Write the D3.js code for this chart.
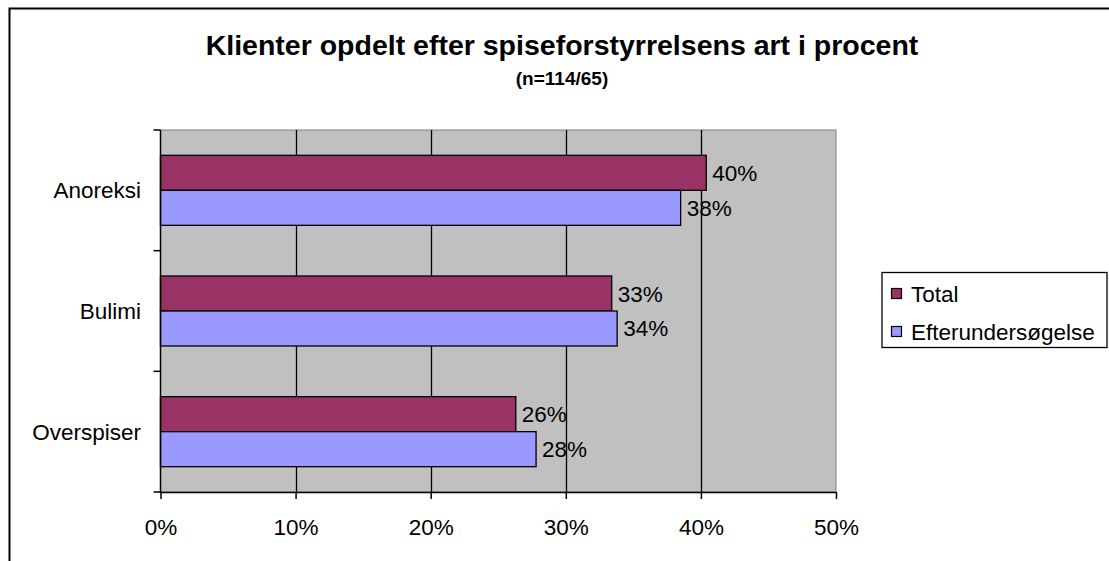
<!DOCTYPE html>
<html><head><meta charset="utf-8">
<script src="https://cdn.jsdelivr.net/npm/d3@7"></script>
<style>body{margin:0;background:#fff}svg{display:block;font-family:"Liberation Sans",Arial,sans-serif}</style>
</head><body><svg id="c" width="1109" height="561"></svg>
<script>
const categories = ["Anoreksi", "Bulimi", "Overspiser"];
const seriesNames = ["Total", "Efterundersøgelse"];
const totalValues = [40.4, 33.4, 26.3];
const efterValues = [38.5, 33.8, 27.8];
const labelsTotal = ["40%", "33%", "26%"];
const labelsEfter = ["38%", "34%", "28%"];
const xTicks = [0, 10, 20, 30, 40, 50];
const colors = ["#993366", "#9999FF"];
const title = "Klienter opdelt efter spiseforstyrrelsens art i procent";
const subtitle = "(n=114/65)";

const svg = d3.select("#c");
const L = 160.5, R = 836, T = 130, B = 492;
const FS = 22.5;

// outer border (top and left only visible)
svg.append("path").attr("d", `M9.5,561 V8.5 H1109`).attr("fill", "none").attr("stroke", "#000").attr("stroke-width", 2);

const x = d3.scaleLinear().domain([0, 50]).range([L, R]);
const y = d3.scaleBand().domain(categories).range([T, B]).paddingInner(0.42).paddingOuter(0.21);
const ys = d3.scaleBand().domain(seriesNames).range([0, y.bandwidth()]);

svg.append("rect").attr("x", L).attr("y", T).attr("width", R - L).attr("height", B - T)
  .attr("fill", "#C0C0C0").attr("stroke", "#808080").attr("stroke-width", 1);

// gridlines
svg.append("g").selectAll("line").data(xTicks.slice(1, -1)).join("line")
  .attr("x1", d => Math.round(x(d)) + 0.5).attr("x2", d => Math.round(x(d)) + 0.5)
  .attr("y1", T).attr("y2", B).attr("stroke", "#000").attr("stroke-width", 1.3);

// bars
const data = categories.map((c, i) => ({c, vals: [totalValues[i], efterValues[i]], labs: [labelsTotal[i], labelsEfter[i]]}));
const g = svg.append("g");
data.forEach(d => {
  seriesNames.forEach((s, j) => {
    const yy = y(d.c) + ys(s);
    g.append("rect").attr("x", x(0)).attr("y", yy).attr("width", x(d.vals[j]) - x(0)).attr("height", ys.bandwidth())
      .attr("fill", colors[j]).attr("stroke", "#000").attr("stroke-width", 1.3);
    g.append("text").attr("x", x(d.vals[j]) + 6).attr("y", yy + ys.bandwidth() / 2 + 8)
      .attr("font-size", FS).attr("fill", "#000").text(d.labs[j]);
  });
});

// axes
const xAxis = d3.axisBottom(x).tickValues(xTicks).tickFormat(d => d + "%").tickSize(7).tickPadding(20);
const xg = svg.append("g").attr("transform", `translate(0,${B})`).call(xAxis);
xg.select(".domain").attr("stroke", "#000").attr("stroke-width", 1.5).attr("d", `M${L},0.5H${R}`);
xg.selectAll(".tick line").attr("stroke", "#000").attr("stroke-width", 1.5);
xg.selectAll("text").attr("font-size", FS).attr("fill", "#000").attr("font-family", "Liberation Sans, Arial, sans-serif");

const yBounds = [T, ...categories.map(c => y(c) + y.bandwidth() + y.step() * y.paddingInner() / 2).slice(0, -1), B];
svg.append("line").attr("x1", L).attr("x2", L).attr("y1", T).attr("y2", B).attr("stroke", "#000").attr("stroke-width", 1.5);
svg.append("g").selectAll("line").data(yBounds).join("line")
  .attr("x1", L - 7).attr("x2", L).attr("y1", d => d).attr("y2", d => d).attr("stroke", "#000").attr("stroke-width", 1.5);
svg.append("g").selectAll("text").data(categories).join("text")
  .attr("x", 141).attr("y", d => y(d) + y.bandwidth() / 2 + 8).attr("text-anchor", "end")
  .attr("font-size", FS).attr("fill", "#000").text(d => d);

// titles
svg.append("text").attr("x", 562).attr("y", 55).attr("text-anchor", "middle").attr("font-size", 28.5).attr("font-weight", "bold").text(title);
svg.append("text").attr("x", 562).attr("y", 85).attr("text-anchor", "middle").attr("font-size", 19).attr("font-weight", "bold").text(subtitle);

// legend
const lg = svg.append("g");
lg.append("rect").attr("x", 882).attr("y", 272.5).attr("width", 225).attr("height", 75).attr("fill", "#fff").attr("stroke", "#000").attr("stroke-width", 1.3);
seriesNames.forEach((s, j) => {
  const cy = 293.5 + j * 38;
  lg.append("rect").attr("x", 891.5).attr("y", cy - 5).attr("width", 10).attr("height", 10).attr("fill", colors[j]).attr("stroke", "#000").attr("stroke-width", 1.2);
  lg.append("text").attr("x", 911).attr("y", cy + 8.5).attr("font-size", FS).attr("fill", "#000").text(s);
});
</script></body></html>
